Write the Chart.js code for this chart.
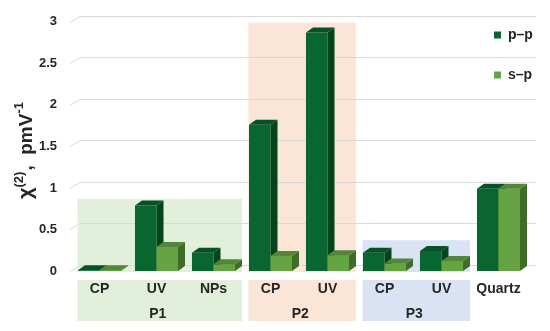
<!DOCTYPE html>
<html>
<head>
<meta charset="utf-8">
<script src="https://cdn.jsdelivr.net/npm/chart.js@4"></script>
<style>
  html, body { margin: 0; padding: 0; background: #fff; }
  #wrap { width: 550px; height: 331px; position: relative; }
</style>
</head>
<body>
<div id="wrap"><canvas id="chi2Chart" width="550" height="331"></canvas></div>
<script>
// data
const categories = ["CP", "UV", "NPs", "CP", "UV", "CP", "UV", "Quartz"];
const ppValues   = [0.01, 0.79, 0.22, 1.76, 2.87, 0.22, 0.24, 0.99];
const spValues   = [0.01, 0.29, 0.08, 0.18, 0.19, 0.09, 0.12, 0.99];
const yTicks     = [0, 0.5, 1, 1.5, 2, 2.5, 3];
const yTickText  = ["0", "0.5", "1", "1.5", "2", "2.5", "3"];
const groupNames = ["P1", "P2", "P3"];
const groupFirst = [0, 3, 5];
const groupLast  = [2, 4, 6];

// styling
const FONT = "'Liberation Sans', Arial, sans-serif";
const TEXT = "#262626";
const groupFill = ["#e2efda", "#fbe5d6", "#dae3f3"];
const groupTop  = [0.87, 2.99, 0.37];   // height of the shaded boxes (y units)
const ppFace = { front: "#0a6630", side: "#03451b", top: "#065126" };
const spFace = { front: "#66a343", side: "#3f6c26", top: "#52873a" };
const BAR_DX = 7, BAR_DY = -5;      // bar depth
const WALL_DX = 9, WALL_DY = -6;    // back wall offset for gridlines

function poly(ctx, pts, color) {
    ctx.beginPath();
    ctx.moveTo(pts[0][0], pts[0][1]);
    for (let i = 1; i < pts.length; i++) ctx.lineTo(pts[i][0], pts[i][1]);
    ctx.closePath();
    ctx.fillStyle = color;
    ctx.fill();
}

function drawBar3d(ctx, el, face, withFront) {
    const l = el.x - el.width / 2, r = el.x + el.width / 2;
    const t = el.y, b = el.base;
    if (withFront) {
        ctx.fillStyle = face.front;
        ctx.fillRect(l, t, r - l, b - t);
    }
    poly(ctx, [[r, t], [r + BAR_DX, t + BAR_DY], [r + BAR_DX, b + BAR_DY], [r, b]], face.side);
    poly(ctx, [[l, t], [l + BAR_DX, t + BAR_DY], [r + BAR_DX, t + BAR_DY], [r, t]], face.top);
}

const decorPlugin = {
    id: "decor",
    beforeDraw(chart) {
        const { ctx, chartArea, scales } = chart;
        const x = scales.x, y = scales.y;
        const half = (x.getPixelForValue(1) - x.getPixelForValue(0)) / 2;
        ctx.save();
        ctx.fillStyle = "#fff";
        ctx.fillRect(0, 0, chart.width, chart.height);
        groupNames.forEach((name, g) => {
            const x0 = x.getPixelForValue(groupFirst[g]) - half + 6.5;
            const x1 = x.getPixelForValue(groupLast[g]) + half;
            const top = y.getPixelForValue(groupTop[g]);
            ctx.fillStyle = groupFill[g];
            ctx.fillRect(x0, top, x1 - x0, chartArea.bottom + 1 - top);
            ctx.fillRect(x0, chartArea.bottom + 9, x1 - x0, 41);
            ctx.fillStyle = TEXT;
            ctx.font = "bold 14px " + FONT;
            ctx.textAlign = "center";
            ctx.textBaseline = "middle";
            ctx.fillText(name, (x0 + x1) / 2 - 2, chartArea.bottom + 43);
        });
        ctx.restore();
    },
    beforeDatasetsDraw(chart) {
        const { ctx, chartArea, scales } = chart;
        ctx.save();
        ctx.strokeStyle = "#d9d9d9";
        ctx.lineWidth = 1;
        yTicks.forEach(v => {
            const py = Math.round(scales.y.getPixelForValue(v)) + 0.5;
            ctx.beginPath();
            ctx.moveTo(chartArea.left - 1, py);
            ctx.lineTo(chartArea.left + WALL_DX, py + WALL_DY);
            ctx.lineTo(chartArea.right + WALL_DX, py + WALL_DY);
            ctx.stroke();
        });
        ctx.restore();
    },
    afterDatasetsDraw(chart) {
        const ctx = chart.ctx;
        const pp = chart.getDatasetMeta(0).data;
        const sp = chart.getDatasetMeta(1).data;
        ctx.save();
        for (let i = 0; i < pp.length; i++) {
            drawBar3d(ctx, pp[i], ppFace, false);
            drawBar3d(ctx, sp[i], spFace, true);
        }
        ctx.restore();
    },
    afterDraw(chart) {
        const ctx = chart.ctx;
        ctx.save();
        // y axis title with superscripts
        ctx.translate(32, 199);
        ctx.rotate(-Math.PI / 2);
        ctx.fillStyle = TEXT;
        ctx.textBaseline = "alphabetic";
        ctx.textAlign = "left";
        const parts = [
            { t: "\u03c7", size: 20, rise: 0 },
            { t: "(2)", size: 13, rise: 9 },
            { t: ",  pmV", size: 19, rise: 0 },
            { t: "-1", size: 13, rise: 9 }
        ];
        let cx = 0;
        parts.forEach(p => {
            ctx.font = "bold " + p.size + "px " + FONT;
            ctx.fillText(p.t, cx, -p.rise);
            cx += ctx.measureText(p.t).width + (p.rise ? 1 : 0);
        });
        ctx.restore();

        // legend
        ctx.save();
        ctx.font = "bold 14px " + FONT;
        ctx.textBaseline = "middle";
        ctx.textAlign = "left";
        chart.data.datasets.forEach((ds, i) => {
            const ly = 35 + i * 40;
            ctx.fillStyle = ds.backgroundColor;
            ctx.fillRect(494, ly - 3.5, 7, 7);
            ctx.fillStyle = TEXT;
            ctx.fillText(ds.label, 508, ly);
        });
        ctx.restore();
    }
};

new Chart(document.getElementById("chi2Chart"), {
    type: "bar",
    data: {
        labels: categories,
        datasets: [
            { label: "p\u2013p", data: ppValues, backgroundColor: ppFace.front },
            { label: "s\u2013p", data: spValues, backgroundColor: spFace.front }
        ]
    },
    options: {
        responsive: false,
        animation: false,
        devicePixelRatio: 1,
        layout: { padding: { top: 21, right: 23, left: 0, bottom: 0 } },
        datasets: { bar: { categoryPercentage: 0.755, barPercentage: 1, borderWidth: 0 } },
        scales: {
            x: {
                grid: { display: false, drawTicks: false },
                border: { display: false },
                ticks: {
                    color: TEXT, padding: 10, maxRotation: 0,
                    font: { family: FONT, size: 14, weight: "bold" }
                },
                afterFit(scale) { scale.height = 60; }
            },
            y: {
                min: 0, max: 3,
                grid: { display: false, drawTicks: false },
                border: { display: false },
                ticks: {
                    color: TEXT, padding: 14,
                    font: { family: FONT, size: 13, weight: "bold" },
                    callback: (value, index) => yTickText[index]
                },
                afterBuildTicks(scale) { scale.ticks = yTicks.map(v => ({ value: v })); },
                afterFit(scale) { scale.width = 71; }
            }
        },
        plugins: {
            legend: { display: false },
            tooltip: { enabled: false }
        }
    },
    plugins: [decorPlugin]
});
</script>
</body>
</html>
